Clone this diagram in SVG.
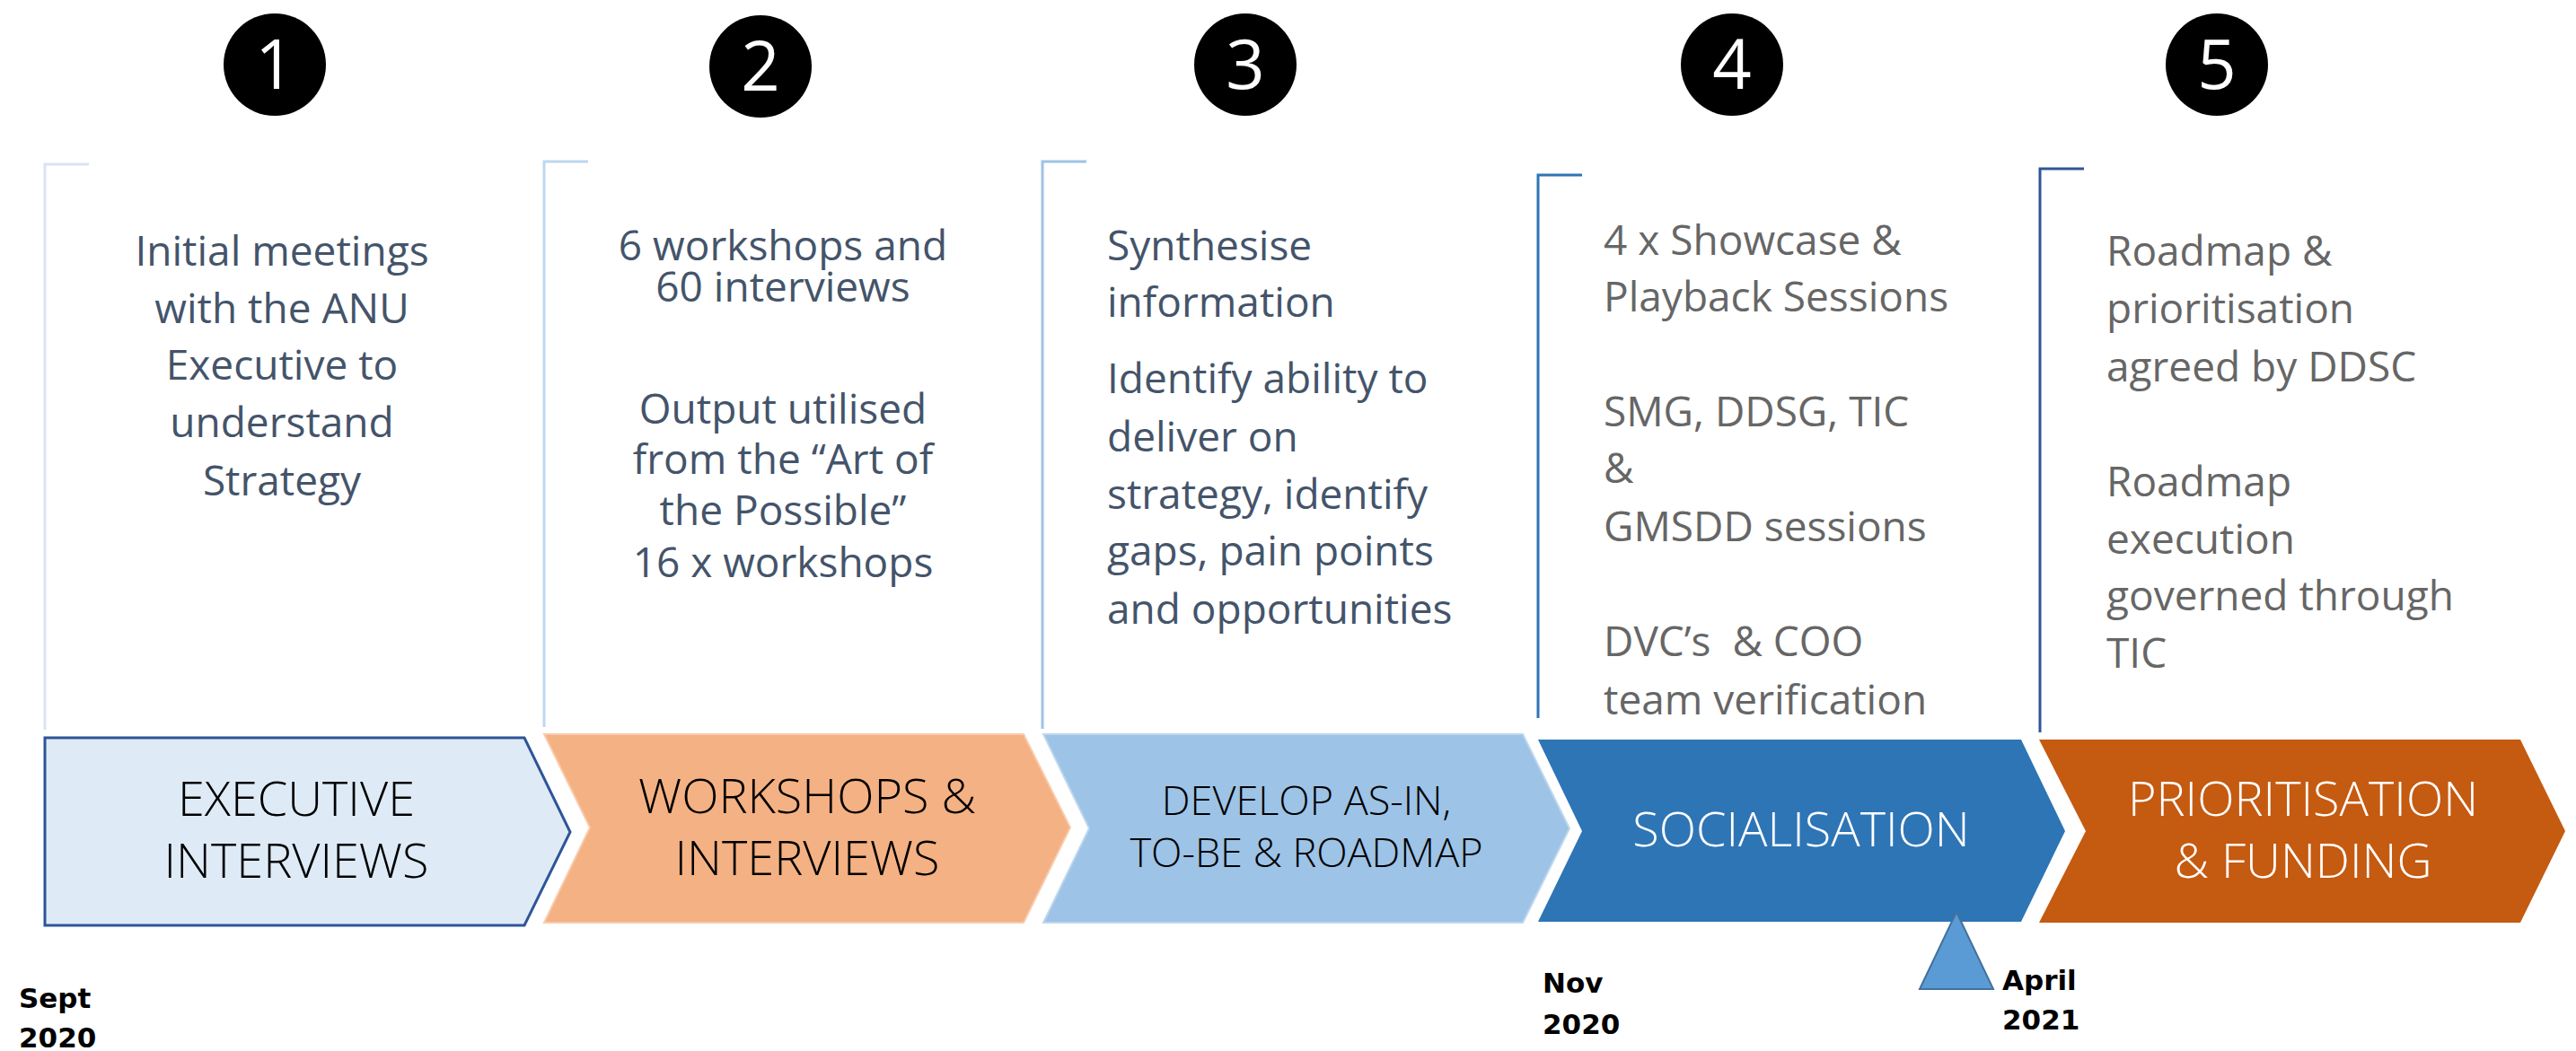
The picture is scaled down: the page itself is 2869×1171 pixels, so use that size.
<svg xmlns="http://www.w3.org/2000/svg" width="2869" height="1171" viewBox="0 0 2869 1171">
<style>
.num{fill:#000}
.numtxt{fill:#fff;font-family:"Open Sans","Liberation Sans",sans-serif;font-weight:normal;font-size:76px;text-anchor:middle}
.br{fill:none;stroke-width:3}
.desc{font-family:"Open Sans","Liberation Sans",sans-serif;font-size:46px}
.dk{fill:#44546a}
.gr{fill:#666666}
.mid{text-anchor:middle}
.lab{font-family:"Open Sans","Liberation Sans",sans-serif;font-weight:300;font-size:54px;text-anchor:middle}
.date{font-family:"DejaVu Sans","Liberation Sans",sans-serif;font-weight:bold;font-size:31px;fill:#000}
</style>
<rect width="2869" height="1171" fill="#fff"/>
<g id="connectors"/>
<g id="stage1">
  <circle class="num" cx="306" cy="72" r="57"/>
  <text class="numtxt" x="306" y="99">1</text>
  <path class="br" stroke="#dae3f3" d="M99,183 H50 V813"/>
  <text class="desc dk mid" x="314"><tspan x="314" y="296">Initial meetings</tspan><tspan x="314" y="360">with the ANU</tspan><tspan x="314" y="423">Executive to</tspan><tspan x="314" y="487">understand</tspan><tspan x="314" y="552">Strategy</tspan></text>
  <polygon points="50,822 584,822 635,927 584,1031 50,1031" fill="#deebf7" stroke="#2f5597" stroke-width="3"/>
  <text class="lab" fill="#000"><tspan x="330" y="909">EXECUTIVE</tspan><tspan x="330" y="978">INTERVIEWS</tspan></text>
</g>
<g id="stage2">
  <circle class="num" cx="847" cy="74" r="57"/>
  <text class="numtxt" x="847" y="101">2</text>
  <path class="br" stroke="#bdd7ee" d="M655,180 H606 V810"/>
  <text class="desc dk mid"><tspan x="872" y="290">6 workshops and</tspan><tspan x="872" y="336">60 interviews</tspan><tspan x="872" y="472">Output utilised</tspan><tspan x="872" y="528">from the “Art of</tspan><tspan x="872" y="585">the Possible”</tspan><tspan x="872" y="643">16 x workshops</tspan></text>
  <polygon points="606,818 1140,818 1192,922 1140,1028 606,1028 657,922" fill="#f4b183" stroke="#f8cbad" stroke-width="2"/>
  <text class="lab" fill="#000"><tspan x="899" y="906">WORKSHOPS &amp;</tspan><tspan x="899" y="975">INTERVIEWS</tspan></text>
</g>
<g id="stage3">
  <circle class="num" cx="1387" cy="72" r="57"/>
  <text class="numtxt" x="1387" y="99">3</text>
  <path class="br" stroke="#9dc3e6" d="M1210,180 H1161 V812"/>
  <text class="desc dk"><tspan x="1233" y="290">Synthesise</tspan><tspan x="1233" y="353">information</tspan><tspan x="1233" y="438">Identify ability to</tspan><tspan x="1233" y="503">deliver on</tspan><tspan x="1233" y="567">strategy, identify</tspan><tspan x="1233" y="630">gaps, pain points</tspan><tspan x="1233" y="695">and opportunities</tspan></text>
  <polygon points="1162,818 1696,818 1748,923 1696,1028 1162,1028 1213,923" fill="#9dc3e6" stroke="#bdd7ee" stroke-width="2"/>
  <text class="lab" fill="#000" style="font-size:45px"><tspan x="1455" y="908">DEVELOP AS-IN,</tspan><tspan x="1455" y="966">TO-BE &amp; ROADMAP</tspan></text>
</g>
<g id="stage4">
  <circle class="num" cx="1929" cy="72" r="57"/>
  <text class="numtxt" x="1929" y="99">4</text>
  <path class="br" stroke="#2e75b6" d="M1762,195 H1713 V800"/>
  <text class="desc gr" style="white-space:pre"><tspan x="1786" y="284">4 x Showcase &amp;</tspan><tspan x="1786" y="347">Playback Sessions</tspan><tspan x="1786" y="475">SMG, DDSG, TIC</tspan><tspan x="1786" y="538">&amp;</tspan><tspan x="1786" y="603">GMSDD sessions</tspan><tspan x="1786" y="731">DVC’s  &amp; COO</tspan><tspan x="1786" y="796">team verification</tspan></text>
  <polygon points="1713,824 2251,824 2300,926 2251,1027 1713,1027 1762,926" fill="#2e75b6"/>
  <text class="lab" fill="#fff" x="2006" y="943">SOCIALISATION</text>
</g>
<g id="stage5">
  <circle class="num" cx="2469" cy="72" r="57"/>
  <text class="numtxt" x="2469" y="99">5</text>
  <path class="br" stroke="#2f5597" d="M2321,188 H2272 V816"/>
  <text class="desc gr"><tspan x="2346" y="296">Roadmap &amp;</tspan><tspan x="2346" y="360">prioritisation</tspan><tspan x="2346" y="425">agreed by DDSC</tspan><tspan x="2346" y="553">Roadmap</tspan><tspan x="2346" y="617">execution</tspan><tspan x="2346" y="680">governed through</tspan><tspan x="2346" y="744">TIC</tspan></text>
  <polygon points="2271,824 2807,824 2857,926 2807,1028 2271,1028 2323,926" fill="#c55a11"/>
  <text class="lab" fill="#fff"><tspan x="2565" y="909">PRIORITISATION</tspan><tspan x="2565" y="978">&amp; FUNDING</tspan></text>
</g>
<g id="milestone">
  <polygon points="2179,1016 2220,1102 2138,1102" fill="#5b9bd5" stroke="#41719c" stroke-width="2"/>
</g>
<g id="dates">
  <text class="date"><tspan x="21" y="1123">Sept</tspan><tspan x="21" y="1167">2020</tspan></text>
  <text class="date"><tspan x="1718" y="1106">Nov</tspan><tspan x="1718" y="1152">2020</tspan></text>
  <text class="date"><tspan x="2230" y="1103">April</tspan><tspan x="2230" y="1147">2021</tspan></text>
</g>
</svg>
